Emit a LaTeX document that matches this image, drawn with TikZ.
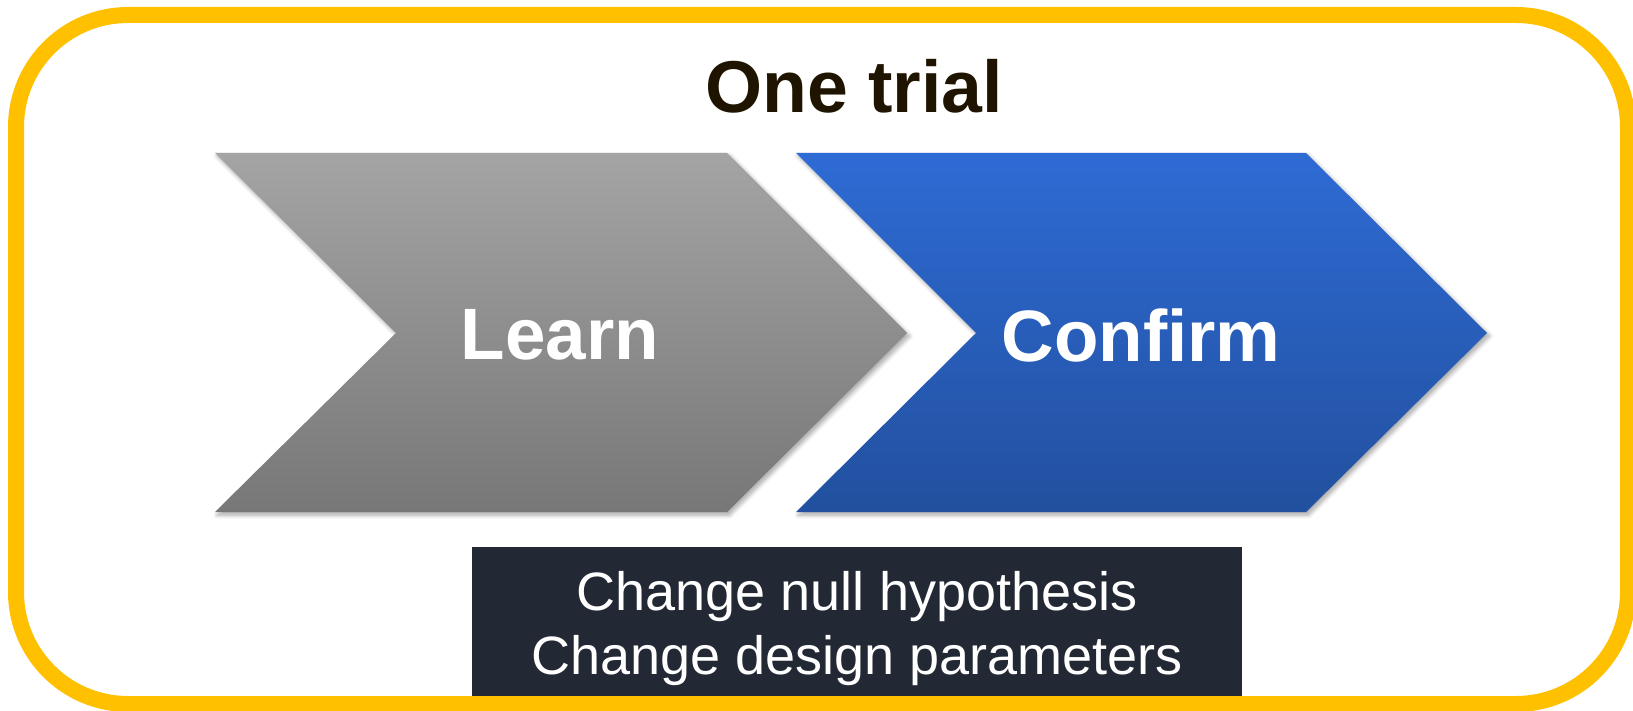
\documentclass[tikz,border=0pt]{standalone}
\usepackage{fontspec}
\setmainfont{Liberation Sans}
\usepackage{xcolor}
\usepackage{tikz}
\usetikzlibrary{shadows.blur}
\definecolor{framey}{HTML}{FFC000}
\definecolor{titlec}{HTML}{1E1400}
\definecolor{boxc}{HTML}{232934}
\definecolor{graytop}{HTML}{A4A4A4}
\definecolor{graybot}{HTML}{777777}
\definecolor{bluetop}{HTML}{2E6BD4}
\definecolor{bluebot}{HTML}{22509F}
\tikzset{
  chev/.style={blur shadow={shadow xshift=1.2pt, shadow yshift=-1.5pt, shadow blur steps=6, shadow opacity=35}},
  chevgray/.style={chev, top color=graytop, bottom color=graybot},
  chevblue/.style={chev, top color=bluetop, bottom color=bluebot},
  clabel/.style={text=white, font=\fontsize{36.4}{40}\selectfont\bfseries, inner sep=0pt},
  nbox/.style={fill=boxc, minimum width=385pt, minimum height=74.5pt, inner sep=0pt},
  ntext/.style={text=white, align=center, font=\fontsize{27}{31.7}\selectfont, inner sep=0pt}
}

\begin{document}
\begin{tikzpicture}[x=0.5pt, y=-0.5pt]
\useasboundingbox (0,0) rectangle (1633,711);
% outer frame
\draw[framey, line width=8pt, rounded corners=56pt] (16,15) rectangle (1628,704);
\node[text=titlec, font=\fontsize{36.7}{40}\selectfont\bfseries, inner sep=0pt] (t1) at (854,86) {One trial};
% the two steps
\path[chevgray] (215,153) -- (727,153) -- (907,333) -- (727,512) -- (215,512) -- (396,333) -- cycle;
\path[chevblue] (796,153) -- (1306,153) -- (1487,333) -- (1306,512) -- (796,512) -- (976,333) -- cycle;
\node[clabel] (c1) at (560,335) {Learn};
\node[clabel] (c2) at (1141,335) {Confirm};
% note box
\node[nbox] (b1) at (857,621.5) {};
\node[ntext, yshift=-3.6pt] (b2) at (b1.center) {Change null hypothesis\\Change design parameters};
\end{tikzpicture}
\end{document}
